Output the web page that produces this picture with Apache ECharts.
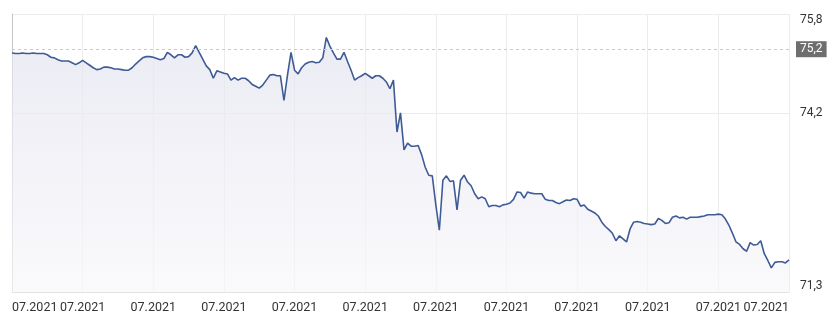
<!DOCTYPE html>
<html>
<head>
<meta charset="utf-8">
<script src="https://cdn.jsdelivr.net/npm/echarts@6/dist/echarts.min.js"></script>
<style>html,body{margin:0;padding:0;background:#fff}#c{width:836px;height:331px}</style>
</head>
<body>
<div id="c"></div>
<script>
// Series values (rate), left to right
const rates = [
75.17,75.16,75.16,75.17,75.16,75.16,75.17,75.16,75.16,75.16,
75.14,75.10,75.09,75.06,75.04,75.04,75.04,75.01,74.98,75.01,
75.05,75.01,74.97,74.93,74.90,74.91,74.94,74.94,74.93,74.91,
74.91,74.90,74.89,74.89,74.93,74.99,75.04,75.09,75.11,75.11,
75.10,75.08,75.06,75.08,75.18,75.14,75.09,75.14,75.14,75.10,
75.11,75.17,75.29,75.18,75.07,74.96,74.90,74.76,74.88,74.86,
74.84,74.83,74.73,74.77,74.73,74.76,74.76,74.72,74.66,74.63,
74.60,74.65,74.73,74.81,74.82,74.80,74.80,74.40,74.81,75.18,
74.89,74.83,74.93,74.99,75.02,75.03,75.01,75.02,75.09,75.42,
75.28,75.17,75.07,75.07,75.18,75.03,74.89,74.73,74.77,74.80,
74.84,74.80,74.76,74.80,74.80,74.76,74.70,74.59,74.73,73.89,
74.20,73.60,73.71,73.66,73.66,73.67,73.52,73.32,73.19,73.18,
72.71,72.30,73.11,73.18,73.09,73.10,72.63,73.11,73.19,73.08,
73.02,72.89,72.81,72.84,72.81,72.68,72.70,72.70,72.68,72.71,
72.72,72.74,72.80,72.92,72.91,72.82,72.92,72.90,72.89,72.89,
72.89,72.80,72.78,72.78,72.75,72.73,72.76,72.79,72.78,72.81,
72.80,72.69,72.71,72.64,72.61,72.58,72.53,72.43,72.36,72.31,
72.25,72.13,72.21,72.16,72.11,72.32,72.43,72.44,72.43,72.41,
72.40,72.39,72.40,72.49,72.46,72.41,72.42,72.51,72.53,72.50,
72.51,72.48,72.51,72.51,72.51,72.52,72.53,72.55,72.55,72.55,
72.56,72.55,72.48,72.38,72.25,72.11,72.07,72.00,71.96,72.10,
72.06,72.07,72.13,71.92,71.81,71.69,71.78,71.79,71.79,71.77,
71.82
];
// X tick labels (one every 20 points)
const xTickLabels = ['07.2021','07.2021','07.2021','07.2021','07.2021','07.2021','07.2021','07.2021','07.2021','07.2021','07.2021','07.2021'];
const pointsPerTick = 20;
// Y tick values
const yTicks = [71.3, 74.2, 75.8];
const yMin = 71.3, yMax = 75.8;
const refValue = 75.23;
const refLabel = '75,2';

const positions = rates.map((_, i) => i);
const comma = v => String(v).replace('.', ',');

const chart = echarts.init(document.getElementById('c'), null, {renderer: 'canvas'});
chart.setOption({
  animation: false,
  backgroundColor: '#fff',
  textStyle: {fontFamily: 'Roboto'},
  grid: {left: 12, right: 47, top: 14, bottom: 39},
  xAxis: {
    type: 'category',
    boundaryGap: false,
    data: positions,
    axisLine: {show: true, lineStyle: {color: '#e3e3e3'}},
    axisTick: {show: false, interval: pointsPerTick - 1},
    axisLabel: {
      interval: 0,
      hideOverlap: false,
      color: '#333',
      fontSize: 12.5,
      margin: 9,
      alignMinLabel: 'left',
      alignMaxLabel: 'right',
      formatter: (v, idx) => (idx % pointsPerTick === 0 ? (xTickLabels[idx / pointsPerTick] || '') : '')
    },
    splitLine: {show: true, interval: pointsPerTick - 1, lineStyle: {color: '#ececec'}}
  },
  yAxis: [{
    type: 'value',
    position: 'right',
    min: yMin, max: yMax,
    axisLine: {show: false},
    axisTick: {show: false, customValues: yTicks},
    axisLabel: {
      customValues: yTicks,
      color: '#333', fontSize: 12, margin: 11,
      verticalAlignMaxLabel: 'top',
      verticalAlignMinLabel: 'bottom',
      formatter: v => comma(v)
    },
    splitLine: {show: true, lineStyle: {color: '#ececec'}}
  }, {
    type: 'value',
    position: 'left',
    min: yMin, max: yMax,
    axisLine: {show: true, lineStyle: {color: '#c4c4c4'}},
    axisTick: {show: false},
    axisLabel: {show: false},
    splitLine: {show: false}
  }],
  series: [{
    type: 'line',
    data: rates,
    yAxisIndex: 0,
    symbol: 'none',
    lineStyle: {color: '#3f5b96', width: 1.6},
    itemStyle: {color: '#3f5b96'},
    areaStyle: {
      color: new echarts.graphic.LinearGradient(0, 0, 0, 1, [
        {offset: 0, color: '#e3e3ef'},
        {offset: 1, color: '#f8f8fb'}
      ]),
      origin: 'start'
    },
    markLine: {
      silent: true,
      symbol: 'none',
      lineStyle: {color: '#c9c9c9', type: [3, 3], width: 1},
      label: {
        position: 'end',
        formatter: refLabel,
        color: '#fff',
        backgroundColor: '#6e6e6e',
        padding: [2, 4, 2, 4],
        fontSize: 12,
        distance: 7
      },
      data: [{yAxis: refValue}]
    }
  }]
});
</script>
</body>
</html>
